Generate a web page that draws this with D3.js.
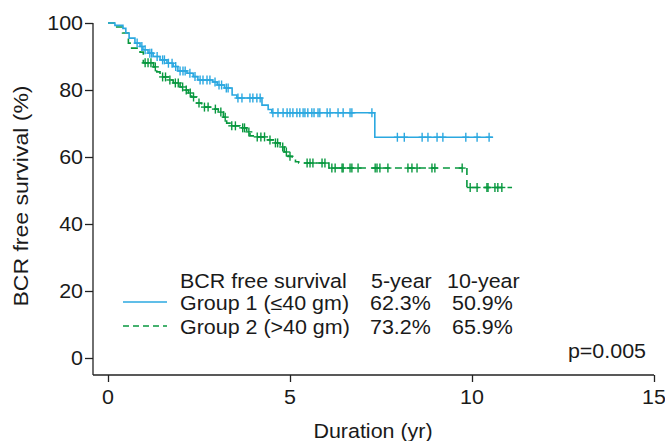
<!DOCTYPE html>
<html lang="en">
	<head>
		<meta charset="utf-8">
		<title>BCR free survival - Kaplan-Meier</title>
		<script type="text/javascript" src="https://cdn.jsdelivr.net/npm/d3@7"></script>
		<style type="text/css">
			body { margin: 0; background: #fff; }
			text { font-family: "Liberation Sans", Arial, sans-serif; fill: #1a1a1a; }
		</style>
	</head>
	<body>
		<script type="text/javascript">

			//Width and height
			var w = 665;
			var h = 441;

			// Axis ticks
			var xTicks = [0, 5, 10, 15];
			var yTicks = [0, 20, 40, 60, 80, 100];

			// Blue (solid) curve: step times (yr) and survival (%) after each step
			var blueTimes = [0, 0.19, 0.41, 0.49, 0.58, 0.74, 0.88, 0.96, 1.10, 1.24, 1.43, 1.62, 1.79, 1.92, 2.17, 2.34, 2.47, 2.88, 3.00, 3.20, 3.41, 3.54, 4.23, 4.40, 4.50, 7.33];
			var blueSurv  = [100, 99.3, 98.4, 97.0, 95.5, 94.0, 93.0, 92.0, 91.0, 90.0, 89.0, 88.0, 87.0, 85.7, 85.0, 84.0, 83.0, 82.4, 81.5, 80.6, 78.5, 77.6, 75.5, 74.2, 73.2, 65.9];
			var blueCensor = [0.80, 0.93, 1.02, 1.15, 1.20, 1.35, 1.50, 1.55, 1.66, 1.76, 1.86, 1.98, 2.06, 2.12, 2.25, 2.39, 2.53, 2.61, 2.72, 2.80, 2.94, 3.05, 3.12, 3.25, 3.30, 3.57, 3.68, 3.90, 3.98, 4.09, 4.18,
				4.53, 4.67, 4.81, 4.92, 5.00, 5.08, 5.19, 5.27, 5.36, 5.41, 5.49, 5.60, 5.66, 5.77, 5.82, 6.02, 6.10, 6.32, 6.46, 6.65, 6.70, 7.25,
				7.95, 8.14, 8.63, 8.79, 9.04, 9.20, 9.83, 10.14, 10.47];
			var blueEnd = 10.58;

			// Green (dashed) curve
			var greenTimes = [0, 0.24, 0.40, 0.56, 0.65, 0.88, 0.97, 1.25, 1.34, 1.43, 1.66, 1.79, 1.98, 2.12, 2.21, 2.30, 2.44, 2.57, 2.85, 3.03, 3.17, 3.26, 3.35, 3.63, 3.81, 3.90, 3.99, 4.36, 4.54, 4.73, 4.84, 4.95, 5.06, 5.15, 5.24, 6.07, 9.86];
			var greenSurv  = [100, 98.8, 97.0, 94.0, 92.5, 91.3, 88.1, 86.9, 85.4, 83.9, 83.0, 82.1, 80.9, 80.0, 79.1, 77.9, 76.1, 74.9, 74.3, 73.4, 71.9, 70.1, 69.3, 68.7, 67.5, 66.3, 66.0, 65.1, 64.2, 63.0, 61.5, 60.2, 59.0, 58.6, 58.2, 56.7, 50.9];
			var greenCensor = [1.02, 1.10, 1.18, 1.30, 1.50, 1.58, 1.70, 1.85, 1.93, 2.05, 2.15, 2.26, 2.35, 2.50, 2.65, 2.75, 2.95, 3.10, 3.22, 3.40, 3.50, 3.70, 3.75, 3.87, 4.10, 4.20, 4.30, 4.45, 4.60, 4.66, 4.80, 4.90, 5.00,
				5.47, 5.55, 5.63, 5.88, 5.96,
				6.15, 6.24, 6.43, 6.46, 6.65, 6.70, 6.87, 7.34, 7.39, 7.47, 7.69, 8.24, 8.35, 8.49, 8.90, 8.98, 9.73,
				9.95, 10.14, 10.41, 10.44, 10.63, 10.71, 10.82];
			var greenEnd = 11.1;

			// Legend table
			var legendHeader = ["BCR free survival", "5-year", "10-year"];
			var legendRows = [
				["Group 1 (\u226440 gm)", "62.3%", "50.9%"],
				["Group 2 (>40 gm)", "73.2%", "65.9%"]
			];

			var blue = "#2ba8e0";
			var green = "#08983f";
			var stretch = 1.1;   // source font looks wider than Arial

			// Create SVG
			var svg = d3.select("body")
				.append("svg")
				.attr("width", w)
				.attr("height", h);

			var x = d3.scaleLinear().domain([0, 15]).range([108, 654]);
			var y = d3.scaleLinear().domain([0, 100]).range([358, 23]);
			var axisY = 375;   // where the x axis sits
			var axisX = 93;    // where the y axis sits

			function addText(px, py, str, anchor, rotate, sx) {
				var tf = "translate(" + px + "," + py + ")" + (rotate ? " rotate(-90)" : "") + " scale(" + (sx || stretch) + ",1)";
				return svg.append("text")
					.attr("transform", tf)
					.attr("text-anchor", anchor || "start")
					.style("font-size", "19.5px")
					.text(str);
			}

			// Axis lines
			svg.append("line").attr("x1", axisX).attr("x2", axisX).attr("y1", y(100)).attr("y2", axisY)
				.attr("stroke", "#222").attr("stroke-width", 1.3);
			svg.append("line").attr("x1", axisX).attr("x2", x(15)).attr("y1", axisY).attr("y2", axisY)
				.attr("stroke", "#222").attr("stroke-width", 1.3);

			// Y ticks
			var gy = svg.append("g").attr("transform", "translate(" + axisX + ",0)")
				.call(d3.axisLeft(y).tickValues(yTicks).tickSize(8).tickFormat(""));
			gy.select(".domain").remove();
			gy.selectAll("line").attr("stroke", "#222").attr("stroke-width", 1.3);
			yTicks.forEach(function(t) { addText(83, y(t) + 7, String(t), "end"); });

			// X ticks
			var gx = svg.append("g").attr("transform", "translate(0," + axisY + ")")
				.call(d3.axisBottom(x).tickValues(xTicks).tickSize(7).tickFormat(""));
			gx.select(".domain").remove();
			gx.selectAll("line").attr("stroke", "#222").attr("stroke-width", 1.3);
			xTicks.forEach(function(t) { addText(x(t), 404, String(t), "middle"); });

			// Axis titles
			addText(373, 438, "Duration (yr)", "middle");
			addText(28, 196, "BCR free survival (%)", "middle", true, 1.18);

			// Step curve helper
			var line = d3.line()
				.x(function(d) { return x(d[0]); })
				.y(function(d) { return y(d[1]); })
				.curve(d3.curveStepAfter);

			function survAt(times, surv, t) {
				var s = surv[0];
				for (var i = 0; i < times.length; i++) {
					if (times[i] <= t) s = surv[i];
				}
				return s;
			}

			function drawCurve(times, surv, censor, end, color, dash) {
				var pts = times.map(function(t, i) { return [t, surv[i]]; });
				pts.push([end, surv[surv.length - 1]]);
				svg.append("path")
					.datum(pts)
					.attr("d", line)
					.attr("fill", "none")
					.attr("stroke", color)
					.attr("stroke-width", 1.6)
					.attr("stroke-dasharray", dash);

				var marks = svg.append("g").selectAll("g")
					.data(censor)
					.enter()
					.append("g")
					.attr("transform", function(t) {
						return "translate(" + x(t) + "," + y(survAt(times, surv, t)) + ")";
					});
				marks.append("line").attr("x1", 0).attr("x2", 0).attr("y1", -4.5).attr("y2", 4.5)
					.attr("stroke", color).attr("stroke-width", 1.4);
				marks.append("line").attr("x1", -3.5).attr("x2", 3.5).attr("y1", 0).attr("y2", 0)
					.attr("stroke", color).attr("stroke-width", 1.4);
			}

			drawCurve(greenTimes, greenSurv, greenCensor, greenEnd, green, "7,5");
			drawCurve(blueTimes, blueSurv, blueCensor, blueEnd, blue, null);

			// Legend
			var colX = [180, 371, 447];
			var rowY = [288, 310, 334];
			legendHeader.forEach(function(s, i) { addText(colX[i], rowY[0], s, "start"); });
			legendRows.forEach(function(r, j) {
				addText(colX[0], rowY[j + 1], r[0], "start");
				addText(colX[1] - 1, rowY[j + 1], r[1], "start");
				addText(colX[2] + 5, rowY[j + 1], r[2], "start");
			});
			svg.append("line").attr("x1", 123).attr("x2", 167).attr("y1", 302).attr("y2", 302)
				.attr("stroke", blue).attr("stroke-width", 1.3);
			svg.append("line").attr("x1", 123).attr("x2", 167).attr("y1", 326).attr("y2", 326)
				.attr("stroke", green).attr("stroke-width", 1.3).attr("stroke-dasharray", "6,4");

			addText(646, 358, "p=0.005", "end");

		</script>
	</body>
</html>
